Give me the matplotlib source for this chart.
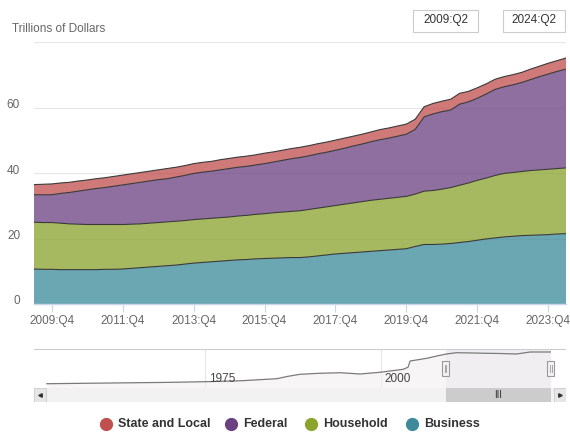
"""Debt of domestic nonfinancial sectors, stacked area with a navigator strip."""
import matplotlib

matplotlib.use("Agg")
import matplotlib.pyplot as plt
import matplotlib.transforms as mtransforms
import numpy as np
from matplotlib.lines import Line2D
from matplotlib.patches import Rectangle

plt.rcParams["font.family"] = ["Liberation Sans", "DejaVu Sans"]

W, H = 570, 437

# quarters shown in the main chart, 2009:Q2 .. 2024:Q2
quarters = [f"{y}:Q{q}" for y in range(2009, 2025) for q in range(1, 5)][1:62]

business = [10.7, 10.6, 10.6, 10.5, 10.5, 10.5, 10.5, 10.5, 10.6, 10.6, 10.7,
            10.9, 11.1, 11.3, 11.5, 11.7, 11.9, 12.2, 12.5, 12.7, 12.9,
            13.1, 13.3, 13.5, 13.6, 13.8, 13.9, 14.0, 14.1, 14.2, 14.2,
            14.4, 14.7, 15.0, 15.3, 15.5, 15.7, 15.9, 16.1, 16.3, 16.5,
            16.7, 16.9, 17.6, 18.2, 18.2, 18.3, 18.5, 18.8, 19.1, 19.5,
            19.9, 20.2, 20.5, 20.7, 20.9, 21.0, 21.1, 21.2, 21.4, 21.5]
household = [14.3, 14.3, 14.3, 14.2, 14.0, 13.9, 13.8, 13.8, 13.7, 13.7, 13.6,
             13.5, 13.4, 13.4, 13.4, 13.4, 13.4, 13.3, 13.3, 13.3, 13.3,
             13.3, 13.3, 13.4, 13.5, 13.6, 13.7, 13.9, 14.0, 14.1, 14.3,
             14.5, 14.6, 14.7, 14.8, 15.0, 15.2, 15.4, 15.6, 15.7, 15.8,
             15.9, 16.0, 16.0, 16.3, 16.5, 16.8, 17.1, 17.5, 17.9, 18.3,
             18.6, 19.1, 19.4, 19.5, 19.6, 19.8, 19.9, 20.0, 20.0, 20.1]
federal = [8.4, 8.5, 8.5, 9.1, 9.6, 10.1, 10.6, 11.0, 11.3, 11.7, 12.1,
           12.4, 12.7, 12.9, 13.1, 13.2, 13.5, 13.8, 14.1, 14.3, 14.4,
           14.6, 14.8, 14.9, 15.0, 15.1, 15.3, 15.5, 15.8, 16.1, 16.3,
           16.4, 16.6, 16.7, 16.9, 17.1, 17.4, 17.6, 17.9, 18.2, 18.4,
           18.7, 19.0, 19.8, 22.7, 23.4, 23.7, 23.7, 24.8, 24.8, 25.1,
           25.7, 26.3, 26.5, 26.8, 27.2, 27.8, 28.5, 29.1, 29.7, 30.2]
state_local = [3.1, 3.2, 3.3, 3.2, 3.1, 3.1, 3.0, 3.0, 3.0, 3.0, 3.0,
               3.0, 3.0, 3.0, 3.0, 3.1, 3.0, 3.0, 3.0, 3.0, 3.0,
               3.1, 3.1, 3.1, 3.1, 3.1, 3.2, 3.1, 3.1, 3.1, 3.1,
               3.1, 3.1, 3.1, 3.1, 3.1, 3.0, 3.0, 3.0, 3.1, 3.1,
               3.1, 3.1, 3.1, 3.1, 3.2, 3.2, 3.3, 3.3, 3.2, 3.2,
               3.1, 3.1, 3.1, 3.1, 3.1, 3.2, 3.2, 3.3, 3.3, 3.4]

series_names = ["State and Local", "Federal", "Household", "Business"]
series_colors = ["#c0504e", "#6c4183", "#8ca42e", "#3d8a9b"]

# navigator strip: the full history
nav_years = [1952.4, 1960, 1970, 1975, 1980, 1985.2, 1986.8, 1988.5, 1991, 1994.2,
             1997.1, 1999.9, 2003.2, 2003.9, 2004.2, 2006.6, 2008, 2009.4,
             2010.8, 2013, 2015.1, 2017, 2019.4, 2021.3, 2024.2]
nav_level = [11.0, 12.5, 14.5, 16.2, 18.5, 23.8, 30.0, 35.1, 37.5, 39.2,
             35.9, 40.3, 47.9, 53.1, 69.2, 76.2, 82.0, 87.2,
             90.5, 89.8, 89.0, 88.5, 87.2, 92.3, 92.3]
nav_labels = [1975, 2000]
sel_start, sel_end = 2009.25, 2024.25

TXT = "#666666"


def fx(px):
    return px / W


def fy(py):
    return 1 - py / H


fig = plt.figure(figsize=(W / 100, H / 100), dpi=100)

# ---- main stacked area ----
ax = fig.add_axes([fx(34), fy(304), (566 - 34) / W, (304 - 42.3) / H])
x = np.arange(len(quarters))
stack_order = [business, household, federal, state_local]
fill_colors = [series_colors[3], series_colors[2], series_colors[1], series_colors[0]]
ax.stackplot(x, *stack_order, colors=fill_colors, alpha=0.76, linewidth=0)
tops = np.cumsum(np.array(stack_order), axis=0)
for top in tops:
    ax.plot(x, top, color="#3a3a3a", lw=0.8)

ax.set_xlim(0, len(quarters) - 1)
ax.set_ylim(0, 80)
ax.set_yticks([0, 20, 40, 60, 80])
ax.set_yticklabels(["0", "20", "40", "60", ""])
ax.grid(axis="y", color="#e6e6e6", lw=0.8)
ax.set_axisbelow(True)
for side in ("top", "right", "left"):
    ax.spines[side].set_visible(False)
ax.spines["bottom"].set_color("#ccd6eb")
ax.spines["bottom"].set_linewidth(1.0)
ax.tick_params(axis="y", length=0, pad=10, labelsize=8.5, labelcolor=TXT)
lift = mtransforms.ScaledTranslation(0, 4 / 100, fig.dpi_scale_trans)
for lab in ax.get_yticklabels():
    lab.set_transform(lab.get_transform() + lift)

tick_idx = [i for i, q in enumerate(quarters) if q.endswith("Q4") and int(q[:4]) % 2 == 1]
ax.set_xticks(tick_idx)
ax.set_xticklabels([quarters[i] for i in tick_idx])
ax.tick_params(axis="x", length=5.8, width=0.8, color="#ccd6eb", pad=2,
               labelsize=8.5, labelcolor=TXT)

fig.text(fx(12), fy(29), "Trillions of Dollars", fontsize=8.5, color=TXT, va="center")

# range input boxes
for (x0, x1), q in zip([(413, 478), (503, 565)], [quarters[0], quarters[-1]]):
    fig.add_artist(Rectangle((fx(x0), fy(32)), (x1 - x0) / W, 22 / H,
                             transform=fig.transFigure, facecolor="white",
                             edgecolor="#cccccc", lw=0.8))
    fig.text(fx((x0 + x1) / 2), fy(20.5), q, fontsize=8.5, color="#333333",
             ha="center", va="center")

# ---- navigator ----
nav = fig.add_axes([fx(34), fy(388), (566 - 34) / W, 39 / H])
nav.set_xlim(1950.57, 2026.43)
nav.set_ylim(0, 100)
nav.axvspan(sel_start, sel_end, color="#eeeef2", lw=0)
nav.fill_between(nav_years, nav_level, color="#f3efef", alpha=0.6, lw=0)
nav.plot(nav_years, nav_level, color="#7a7a7a", lw=0.9)
for yr in nav_labels:
    nav.axvline(yr, color="#e6e6e6", lw=0.8, zorder=0)
    nav.text(yr + 0.6, 22, str(yr), fontsize=8.5, color="#444444", va="center")
for s in nav.spines.values():
    s.set_visible(False)
nav.axhline(100, color="#cccccc", lw=0.8)
nav.set_xticks([])
nav.set_yticks([])
for yr in (sel_start, sel_end):
    nav.add_patch(Rectangle((yr - 0.5, 32), 1.0, 36, facecolor="#f2f2f2",
                            edgecolor="#999999", lw=0.8, zorder=5))
    nav.plot([yr - 0.12, yr - 0.12], [40, 60], color="#999999", lw=0.6, zorder=6)
    nav.plot([yr + 0.12, yr + 0.12], [40, 60], color="#999999", lw=0.6, zorder=6)

# ---- scrollbar ----
sb = fig.add_axes([fx(34), fy(402), (566 - 34) / W, 14 / H])
sb.set_xlim(1950.57, 2026.43)
sb.set_ylim(0, 1)
sb.axis("off")
sb.add_patch(Rectangle((0, 0), 1, 1, transform=sb.transAxes, facecolor="#f2f2f2", lw=0))
sb.add_patch(Rectangle((sel_start, 0), sel_end - sel_start, 1, facecolor="#cccccc", lw=0))
sb.text((sel_start + sel_end) / 2, 0.5, "III", fontsize=7, color="#333333",
        ha="center", va="center")
for x0, mk in [(0.0, "<"), (1 - 12 / 532, ">")]:
    sb.add_patch(Rectangle((x0, 0), 12 / 532, 1, transform=sb.transAxes,
                           facecolor="#e6e6e6", edgecolor="#cccccc", lw=0.6))
    sb.plot([x0 + 6 / 532], [0.5], marker=mk, color="#333333", ms=2.5,
            transform=sb.transAxes)

# ---- legend ----
legend_x = [105.7, 230.5, 311, 411.7]
for name, col, lx in zip(series_names, series_colors, legend_x):
    fig.add_artist(Line2D([fx(lx)], [fy(423.7)], marker="o", ms=8.5, color=col,
                          transform=fig.transFigure))
    fig.text(fx(lx + 12.5), fy(423.7), name, fontsize=9, fontweight="bold",
             color="#333333", va="center")

fig.savefig("out.png", dpi=100)
